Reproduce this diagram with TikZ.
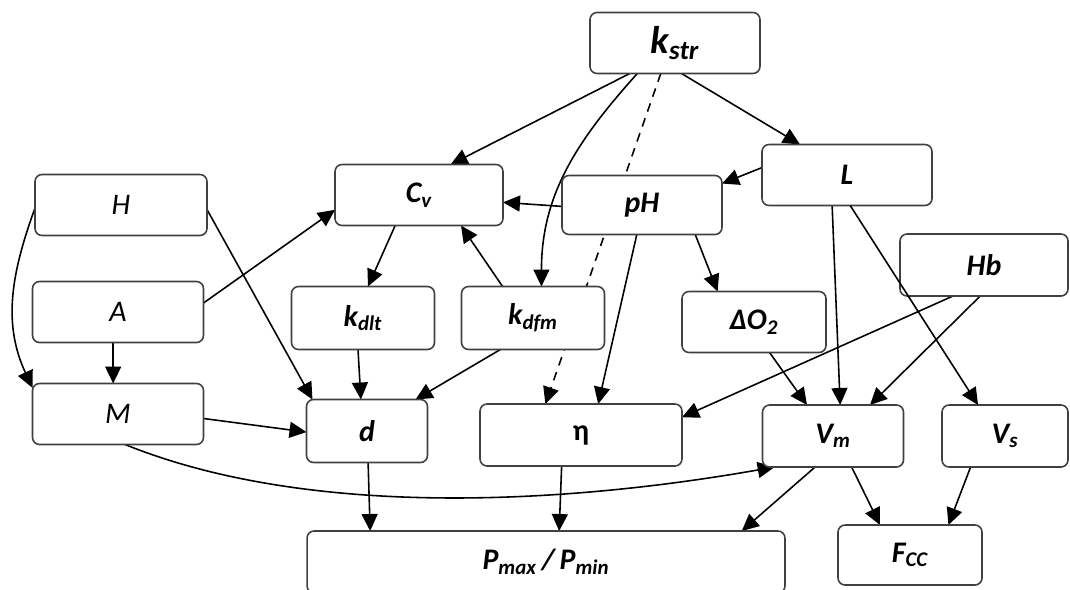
\documentclass[tikz,border=0pt]{standalone}
\usepackage{fontspec}
\setmainfont{Carlito}
\usetikzlibrary{arrows.meta,backgrounds}

\begin{document}
\begin{tikzpicture}[x=0.02cm,y=-0.02cm,
    box/.style={draw=black!75,line width=0.9pt,rectangle,rounded corners=4pt,fill=white,outer sep=0pt,
      minimum height=1.22cm,font=\fontsize{17}{20}\selectfont\bfseries\itshape},
    plainbox/.style={box,font=\fontsize{17}{20}\selectfont\mdseries\itshape},
    arr/.style={line width=0.9pt,-{Triangle[length=3.4mm,width=3.2mm]}}]
      \useasboundingbox (0,0) rectangle (1070,589);

      \node[box,minimum width=3.4cm,font=\fontsize{22}{26}\selectfont\bfseries\itshape] (kstr) at (675,43) {k\textsubscript{str}};
      \node[plainbox,minimum width=3.44cm] (H) at (121,205) {H};
      \node[plainbox,minimum width=3.42cm] (A) at (118,312) {A};
      \node[plainbox,minimum width=3.42cm] (M) at (118,414) {M};
      \node[box,minimum width=3.36cm] (cv) at (419,195) {C\textsubscript{v}};
      \node[box,minimum width=3.2cm,minimum height=1.18cm] (pH) at (642,205) {pH};
      \node[box,minimum width=3.4cm] (L) at (847,175) {L};
      \node[box,minimum width=3.36cm,minimum height=1.24cm] (Hb) at (984,265) {Hb};
      \node[box,minimum width=2.86cm,minimum height=1.26cm] (kdlt) at (363,318) {k\textsubscript{dlt}};
      \node[box,minimum width=2.86cm,minimum height=1.26cm] (kdfm) at (533,318) {k\textsubscript{dfm}};
      \node[box,minimum width=2.88cm] (dO2) at (754,322) {ΔO\textsubscript{2}};
      \node[box,minimum width=2.42cm,minimum height=1.26cm] (d) at (367,431) {d};
      \node[box,minimum width=4.04cm,minimum height=1.24cm,font=\fontsize{17}{20}\selectfont\bfseries\upshape] (eta) at (581,435) {η};
      \node[box,minimum width=2.82cm,minimum height=1.24cm] (Vm) at (833,436) {V\textsubscript{m}};
      \node[box,minimum width=2.52cm,minimum height=1.24cm] (Vs) at (1005,436) {V\textsubscript{s}};
      \node[box,minimum width=9.56cm,minimum height=1.24cm] (P) at (546,562) {P\textsubscript{max}\,/\,P\textsubscript{min}};
      \node[box,minimum width=2.88cm,minimum height=1.2cm] (Fcc) at (910,555) {F\textsubscript{CC}};

      \begin{scope}[on background layer]
      \draw[arr] (kstr.214)--(cv.44);
      \draw[arr] (kstr.219) to[out=228,in=90] (kdfm.75);
      \draw[arr,dash pattern=on 5pt off 4pt] (kstr.245)--(eta.139);
      \draw[arr] (kstr.282)--(L.147);
      \draw[arr] (L.175)--(pH.15);
      \draw[arr] (pH.181)--(cv.355);
      \draw[arr] (pH.260)--(eta.61);
      \draw[arr] (pH.331)--(dO2.140);
      \draw[arr] (cv.232)--(kdlt.81);
      \draw[arr] (kdfm.134)--(cv.324);
      \draw[arr] (A.6)--(cv.190);
      \draw[arr] (H.357)--(d.150);
      \draw[arr] (H.182) to[out=250,in=115] (M.163);
      \draw[arr] (A.261)--(M.99);
      \draw[arr] (M.357)--(d.181);
      \draw[arr] (kdlt.261)--(d.101);
      \draw[arr] (kdfm.224)--(d.33);
      \draw[arr] (L.244)--(Vm.77);
      \draw[arr] (Hb.263)--(Vm.40);
      \draw[arr] (Hb.225)--(eta.10);
      \draw[arr] (dO2.297)--(Vm.130);
      \draw[arr] (M.283) to[out=-22,in=190,looseness=0.8] (Vm.208);
      \draw[arr] (d.272)--(P.170);
      \draw[arr] (eta.238)--(P.67);
      \draw[arr] (Vm.240)--(P.9);
      \draw[arr] (Vm.301)--(Fcc.135);
      \draw[arr] (Vs.222)--(Fcc.38);
      \end{scope}
      \draw[arr] (L.276)--(Vs.131);
\end{tikzpicture}
\end{document}
